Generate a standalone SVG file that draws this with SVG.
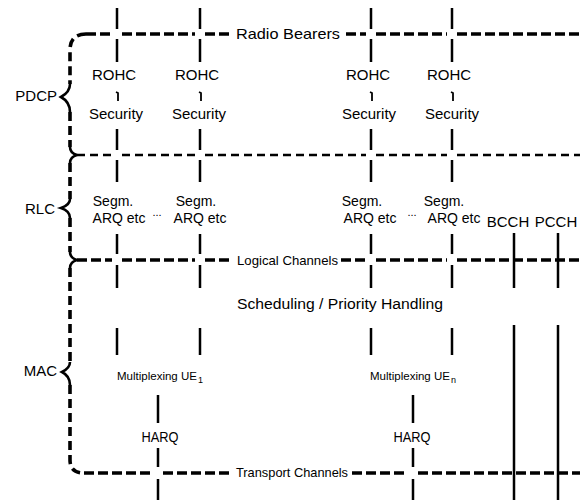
<svg xmlns="http://www.w3.org/2000/svg" width="582" height="500" viewBox="0 0 582 500">
<style>
text{font-family:"Liberation Sans",Arial,sans-serif;fill:#000}
.t15{font-size:15px}
.t14{font-size:14px}
.t13{font-size:13px}
.c{text-anchor:middle}
.e{text-anchor:end}
.v{stroke:#000;stroke-width:2.5;fill:none}
.tk{stroke:#000;stroke-width:1.8;fill:none}
.hb{stroke:#000;stroke-width:3.6;fill:none;stroke-dasharray:10 4}
.hm{stroke:#000;stroke-width:2.6;fill:none;stroke-dasharray:8 5}
.br{stroke:#000;stroke-width:3.6;fill:none;stroke-dasharray:9 5}
.bs{stroke:#000;stroke-width:2.6;fill:none}
</style>
<rect width="582" height="500" fill="#fff"/>
<g id="connectors">
  <path class="br" d="M86,34 Q70,34 70,50 L70,84"/>
  <path class="bs" d="M70,84 Q70,92 61,97 Q70,102 70,112"/>
  <path class="br" d="M70,112 L70,147"/>
  <path class="bs" d="M70,147 Q70,153 77,155 M77,155 Q70,157 70,163"/>
  <path class="br" d="M70,163 L70,199"/>
  <path class="bs" d="M70,199 Q70,205 61,208 Q70,211 70,218"/>
  <path class="br" d="M70,218 L70,252"/>
  <path class="bs" d="M70,252 Q70,258 77,260 M77,260 Q70,262 70,268"/>
  <path class="br" d="M70,268 L70,362"/>
  <path class="bs" d="M70,362 Q70,368 62,372 Q70,376 70,385"/>
  <path class="br" d="M70,385 L70,460 Q70,473 84,473"/>
  <path class="hb" d="M86,34 H112 M122,34 H195 M205,34 H231 M346,34 H366 M376,34 H447 M457,34 H580"/>
  <path class="hm" d="M77,155 H112 M122,155 H195 M205,155 H366 M376,155 H447 M457,155 H580"/>
  <path class="hb" d="M77,260 H112 M122,260 H195 M205,260 H233 M341,260 H366 M376,260 H447 M457,260 H580"/>
  <path class="hb" d="M84,473 H153 M163,473 H231 M352,473 H408 M418,473 H580"/>
  <path class="v" d="M117,8 V29 M117,39 V62 M117,129 V150 M117,160 V182 M117,234 V254 M117,265 V288 M117,328 V355"/>
  <path class="v" d="M200,8 V29 M200,39 V62 M200,129 V150 M200,160 V182 M200,234 V254 M200,265 V288 M200,328 V355"/>
  <path class="v" d="M371,8 V29 M371,39 V62 M371,129 V150 M371,160 V182 M371,234 V254 M371,265 V288 M371,328 V355"/>
  <path class="v" d="M452,8 V29 M452,39 V62 M452,129 V150 M452,160 V182 M452,234 V254 M452,265 V288 M452,328 V355"/>
  <path class="tk" d="M116,92 L118,93 V101 M199,92 L201,93 V101 M370,92 L372,93 V101 M451,92 L453,93 V101"/>
  <path class="v" d="M158,395 V423 M158,448 V467 M158,479 V500"/>
  <path class="v" d="M413,395 V423 M413,448 V467 M413,479 V500"/>
  <path class="v" d="M514,233 V288 M514,325 V500"/>
  <path class="v" d="M558,233 V288 M558,325 V500"/>
</g>
<g id="label-radio-bearers"><text class="t15" x="236" y="39" textLength="104" lengthAdjust="spacingAndGlyphs">Radio Bearers</text></g>
<g id="label-pdcp"><text class="t15 e" x="57" y="101">PDCP</text></g>
<g id="label-rlc"><text class="t15 e" x="55" y="214">RLC</text></g>
<g id="label-mac"><text class="t15 e" x="57" y="376">MAC</text></g>
<g id="rohc-1"><text class="t15 c" x="114" y="80">ROHC</text></g>
<g id="rohc-2"><text class="t15 c" x="197" y="80">ROHC</text></g>
<g id="rohc-3"><text class="t15 c" x="368" y="80">ROHC</text></g>
<g id="rohc-4"><text class="t15 c" x="449" y="80">ROHC</text></g>
<g id="security-1"><text class="t15 c" x="116" y="119">Security</text></g>
<g id="security-2"><text class="t15 c" x="199" y="119">Security</text></g>
<g id="security-3"><text class="t15 c" x="369" y="119">Security</text></g>
<g id="security-4"><text class="t15 c" x="452" y="119">Security</text></g>
<g id="segm-1"><text class="t14 c" x="113" y="206">Segm.</text><text class="t14 c" x="119" y="223">ARQ etc</text></g>
<g id="segm-2"><text class="t14 c" x="196" y="206">Segm.</text><text class="t14 c" x="200" y="223">ARQ etc</text></g>
<g id="segm-3"><text class="t14 c" x="362" y="206">Segm.</text><text class="t14 c" x="370" y="223">ARQ etc</text></g>
<g id="segm-4"><text class="t14 c" x="444" y="206">Segm.</text><text class="t14 c" x="454" y="223">ARQ etc</text></g>
<g id="dots-1"><text class="c" x="157" y="216" font-size="11">...</text></g>
<g id="dots-2"><text class="c" x="412" y="216" font-size="11">...</text></g>
<g id="bcch"><text class="t15 c" x="508" y="227">BCCH</text></g>
<g id="pcch"><text class="t15 c" x="556" y="227">PCCH</text></g>
<g id="label-logical"><text class="t13" x="237" y="265" textLength="101" lengthAdjust="spacingAndGlyphs">Logical Channels</text></g>
<g id="scheduling"><text x="237" y="309" font-size="15.5" textLength="206" lengthAdjust="spacingAndGlyphs">Scheduling / Priority Handling</text></g>
<g id="mux-1"><text x="117" y="380" font-size="11.5">Multiplexing UE</text><text x="198" y="383" font-size="9">1</text></g>
<g id="mux-n"><text x="370" y="380" font-size="11.5">Multiplexing UE</text><text x="451" y="383" font-size="9">n</text></g>
<g id="harq-1"><text class="t14 c" x="160" y="442" textLength="37" lengthAdjust="spacingAndGlyphs">HARQ</text></g>
<g id="harq-n"><text class="t14 c" x="412" y="442" textLength="37" lengthAdjust="spacingAndGlyphs">HARQ</text></g>
<g id="label-transport"><text class="t13" x="236" y="477" textLength="112" lengthAdjust="spacingAndGlyphs">Transport Channels</text></g>
</svg>
